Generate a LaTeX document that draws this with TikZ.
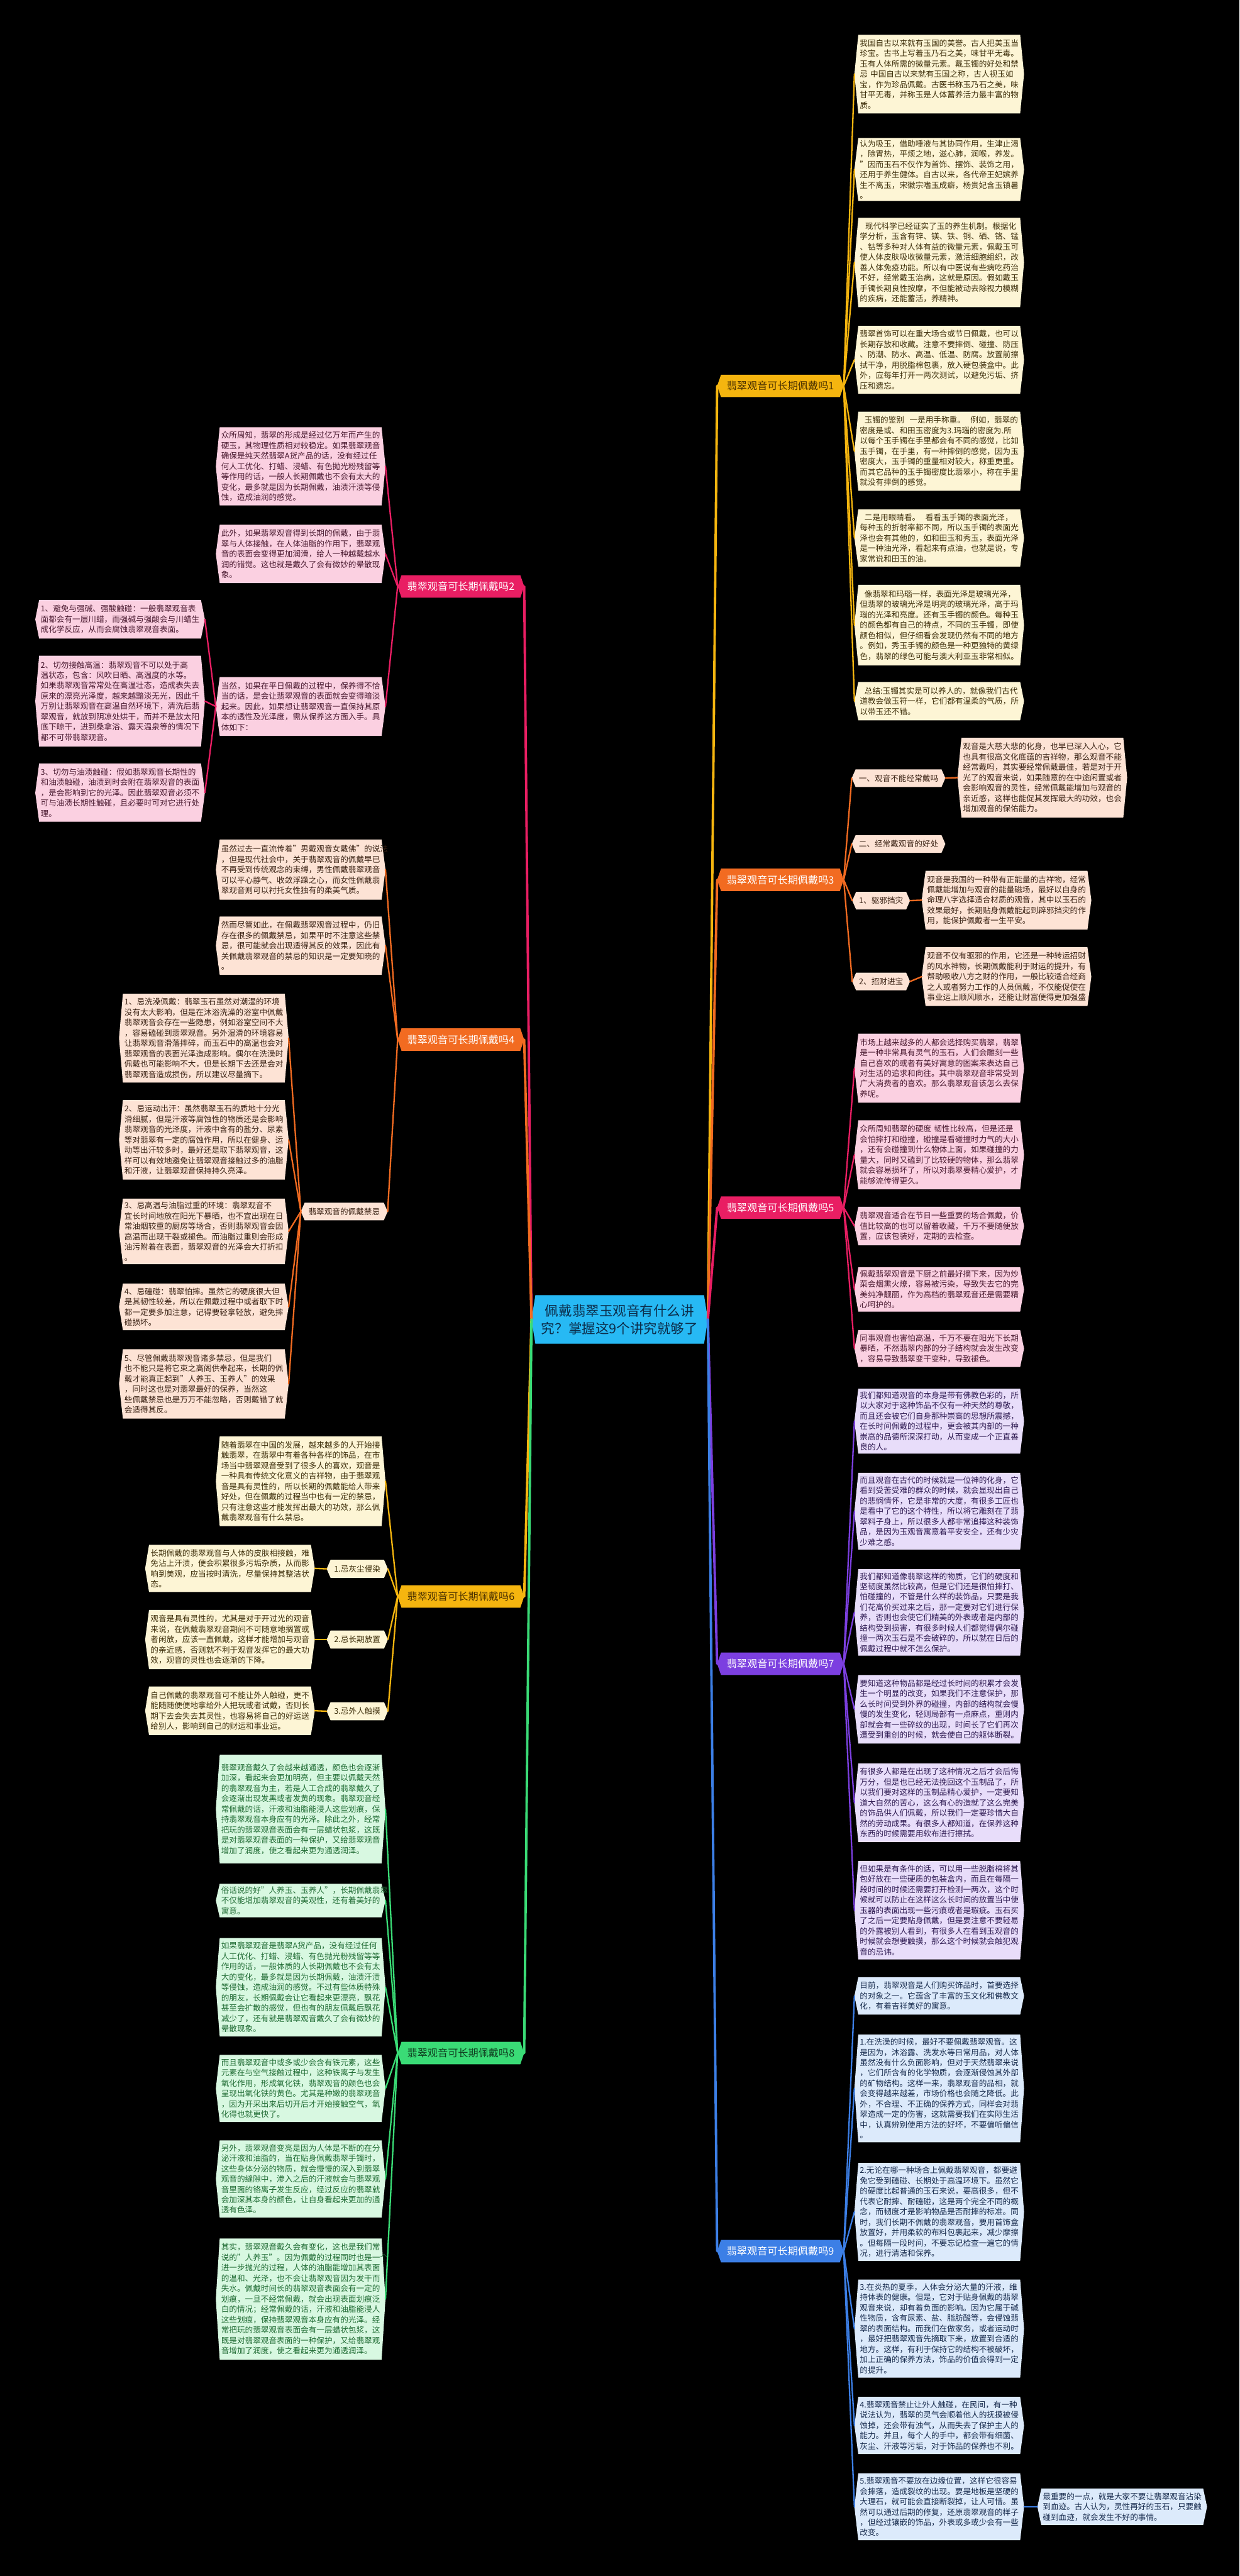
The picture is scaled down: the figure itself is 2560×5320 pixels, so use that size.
\documentclass[tikz,border=0pt]{standalone}
\usepackage{fontspec}
\setmainfont{Noto Sans CJK SC}
\usetikzlibrary{backgrounds}
\setlength{\parindent}{0pt}

\definecolor{cgold}{HTML}{F5B50F}
\definecolor{corange}{HTML}{F26B21}
\definecolor{cpink}{HTML}{E91E63}
\definecolor{cpurple}{HTML}{7C3FE0}
\definecolor{cblue}{HTML}{3C7FE6}
\definecolor{cgreen}{HTML}{3ADB76}
\definecolor{croot}{HTML}{27B9F4}
\definecolor{troot}{HTML}{0C2D4A}
\definecolor{fY}{HTML}{FDF5D5}\definecolor{tY}{HTML}{3D2E0A}
\definecolor{fO}{HTML}{FDE3D5}\definecolor{tO}{HTML}{3A2214}
\definecolor{fP}{HTML}{FBD0E1}\definecolor{tP}{HTML}{4A1A30}
\definecolor{fV}{HTML}{E8DDFA}\definecolor{tV}{HTML}{2E1A52}
\definecolor{fB}{HTML}{DCEAFB}\definecolor{tB}{HTML}{172B4D}
\definecolor{fG}{HTML}{D8F8E1}\definecolor{tG}{HTML}{1F6B33}
\definecolor{tGold}{HTML}{4A3000}
\definecolor{tGreenL}{HTML}{0F3D1F}

\tikzset{
  txt/.style={font=\fontsize{16.4pt}{21.4pt}\selectfont, align=left, text width=328pt, inner xsep=3pt, inner ysep=4pt},
  subl/.style={font=\fontsize{16.4pt}{20pt}\selectfont},
  mainl/.style={font=\fontsize{21pt}{24pt}\selectfont},
  rootsty/.style={font=\fontsize{28pt}{36pt}\selectfont, align=center, text=troot},
  conn/.style={line width=3pt, draw=#1, line cap=round},
  trunk/.style={line width=5pt, draw=#1, line cap=round},
}

\newcommand\myhex[2]{%
  \begin{pgfonlayer}{background}
    \fill[#2] (#1.north west) -- (#1.north east) -- ([xshift=8pt]#1.east) -- (#1.south east) -- (#1.south west) -- ([xshift=-8pt]#1.west) -- cycle;
  \end{pgfonlayer}
  \coordinate (#1-l) at ([xshift=-8pt]#1.west);
  \coordinate (#1-r) at ([xshift=8pt]#1.east);}

% name, x, y, height, fill, textcolor, text
\newcommand\myleaf[7]{%
  \node[txt, text=#6, minimum height=#4pt] (#1) at (#2,#3) {#7};
  \myhex{#1}{#5}}

% name, x, y, width, height, fill, style, text
\newcommand\mylab[8]{%
  \node[#7, minimum width=#4pt, minimum height=#5pt, inner sep=0pt] (#1) at (#2,#3) {#8};
  \myhex{#1}{#6}}

\begin{document}
\begin{tikzpicture}[x=1pt,y=-1pt]
\useasboundingbox (0,0) rectangle (2560,5320);
\begin{pgfonlayer}{background}
\fill[black] (0,0) rectangle (2560,5320);
\end{pgfonlayer}

% ---------- root ----------
\mylab{root}{1280}{2725}{348}{100}{croot}{rootsty}{佩戴翡翠玉观音有什么讲\\究？掌握这9个讲究就够了}

% ---------- main labels ----------
\mylab{lab1}{1612}{797}{245}{46}{cgold}{mainl,text=tGold}{翡翠观音可长期佩戴吗1}
\mylab{lab3}{1612}{1817}{245}{46}{corange}{mainl,text=white}{翡翠观音可长期佩戴吗3}
\mylab{lab5}{1612}{2494}{245}{46}{cpink}{mainl,text=white}{翡翠观音可长期佩戴吗5}
\mylab{lab7}{1612}{3436}{245}{46}{cpurple}{mainl,text=white}{翡翠观音可长期佩戴吗7}
\mylab{lab9}{1612}{4649}{245}{46}{cblue}{mainl,text=white}{翡翠观音可长期佩戴吗9}
\mylab{lab2}{952}{1211}{245}{46}{cpink}{mainl,text=white}{翡翠观音可长期佩戴吗2}
\mylab{lab4}{952}{2147}{245}{46}{corange}{mainl,text=white}{翡翠观音可长期佩戴吗4}
\mylab{lab6}{952}{3297}{245}{46}{cgold}{mainl,text=tGold}{翡翠观音可长期佩戴吗6}
\mylab{lab8}{952}{4240}{245}{46}{cgreen}{mainl,text=tGreenL}{翡翠观音可长期佩戴吗8}

\draw[trunk=cgold] (root-r) -- (lab1-l);
\draw[trunk=corange] (root-r) -- (lab3-l);
\draw[trunk=cpink] (root-r) -- (lab5-l);
\draw[trunk=cpurple] (root-r) -- (lab7-l);
\draw[trunk=cblue] (root-r) -- (lab9-l);
\draw[trunk=cpink] (root-l) -- (lab2-r);
\draw[trunk=corange] (root-l) -- (lab4-r);
\draw[trunk=cgold] (root-l) -- (lab6-r);
\draw[trunk=cgreen] (root-l) -- (lab8-r);

% ---------- branch 1 ----------
\myleaf{a1}{1940}{153}{162}{fY}{tY}{我国自古以来就有玉国的美誉。古人把美玉当\\珍宝。古书上写着玉乃石之美，味甘平无毒。\\玉有人体所需的微量元素。戴玉镯的好处和禁\\忌~中国自古以来就有玉国之称，古人视玉如\\宝，作为珍品佩戴。古医书称玉乃石之美，味\\甘平无毒，并称玉是人体蓄养活力最丰富的物\\质。}
\myleaf{a2}{1940}{350}{129}{fY}{tY}{认为吸玉，借助唾液与其协同作用，生津止渴\\，除胃热，平烦之地，滋心肺，润喉，养发。\\"因而玉石不仅作为首饰、摆饰、装饰之用，\\还用于养生健体。自古以来，各代帝王妃嫔养\\生不离玉，宋徽宗嗜玉成癖，杨贵妃含玉镇暑\\。}
\myleaf{a3}{1940}{542}{184}{fY}{tY}{\hspace*{0.7em}现代科学已经证实了玉的养生机制。根据化\\学分析，玉含有锌、镁、铁、铜、硒、铬、锰\\、钴等多种对人体有益的微量元素，佩戴玉可\\使人体皮肤吸收微量元素，激活细胞组织，改\\善人体免疫功能。所以有中医说有些病吃药治\\不好，经常戴玉治病，这就是原因。假如戴玉\\手镯长期良性按摩，不但能被动去除视力模糊\\的疾病，还能蓄活，养精神。}
\myleaf{a4}{1940}{743}{140}{fY}{tY}{翡翠首饰可以在重大场合或节日佩戴，也可以\\长期存放和收藏。注意不要摔倒、碰撞、防压\\、防潮、防水、高温、低温、防腐。放置前擦\\拭干净，用脱脂棉包裹，放入硬包装盒中。此\\外，应每年打开一两次测试，以避免污垢、挤\\压和遗忘。}
\myleaf{a5}{1940}{932}{163}{fY}{tY}{\hspace*{0.6em}玉镯的鉴别~~一是用手称重。~~例如，翡翠的\\密度是或、和田玉密度为3.玛瑙的密度为.所\\以每个玉手镯在手里都会有不同的感觉，比如\\玉手镯，在手里，有一种摔倒的感觉，因为玉\\密度大，玉手镯的重量相对较大，称重更重。\\而其它品种的玉手镯密度比翡翠小，称在手里\\就没有摔倒的感觉。}
\myleaf{a6}{1940}{1111}{118}{fY}{tY}{\hspace*{0.6em}二是用眼睛看。~~看看玉手镯的表面光泽，\\每种玉的折射率都不同，所以玉手镯的表面光\\泽也会有其他的，如和田玉和秀玉，表面光泽\\是一种油光泽，看起来有点油，也就是说，专\\家常说和田玉的油。}
\myleaf{a7}{1940}{1291}{166}{fY}{tY}{\hspace*{0.6em}像翡翠和玛瑙一样，表面光泽是玻璃光泽，\\但翡翠的玻璃光泽是明亮的玻璃光泽，高于玛\\瑙的光泽和亮度。还有玉手镯的颜色。每种玉\\的颜色都有自己的特点，不同的玉手镯，即使\\颜色相似，但仔细看会发现仍然有不同的地方\\。例如，秀玉手镯的颜色是一种更独特的黄绿\\色，翡翠的绿色可能与澳大利亚玉非常相似。}
\myleaf{a8}{1940}{1448}{79}{fY}{tY}{\hspace*{0.6em}总结:玉镯其实是可以养人的，就像我们古代\\道教会做玉符一样，它们都有温柔的气质，所\\以带玉还不错。}
\foreach \n in {a1,a2,a3,a4,a5,a6,a7,a8} \draw[conn=cgold] (lab1-r) -- (\n-l);

% ---------- branch 3 ----------
\mylab{s31}{1856}{1607}{177}{36}{fO}{subl,text=tO}{一、观音不能经常戴吗}
\mylab{s32}{1856}{1743}{177}{36}{fO}{subl,text=tO}{二、经常戴观音的好处}
\mylab{s33}{1820}{1860}{103}{36}{fO}{subl,text=tO}{1、驱邪挡灾}
\mylab{s34}{1820}{2027}{103}{36}{fO}{subl,text=tO}{2、招财进宝}
\foreach \n in {s31,s32,s33,s34} \draw[conn=corange] (lab3-r) -- (\n-l);
\myleaf{t31}{2153}{1606}{164}{fO}{tO}{观音是大慈大悲的化身，也早已深入人心，它\\也具有很高文化底蕴的吉祥物，那么观音不能\\经常戴吗，其实要经常佩戴最佳，若是对于开\\光了的观音来说，如果随意的在中途闲置或者\\会影响观音的灵性，经常佩戴能增加与观音的\\亲近感，这样也能促其发挥最大的功效，也会\\增加观音的保佑能力。}
\myleaf{t33}{2079}{1859}{121}{fO}{tO}{观音是我国的一种带有正能量的吉祥物，经常\\佩戴能增加与观音的能量磁场，最好以自身的\\命理八字选择适合材质的观音，其中以玉石的\\效果最好，长期贴身佩戴能起到辟邪挡灾的作\\用，能保护佩戴者一生平安。}
\myleaf{t34}{2079}{2017}{121}{fO}{tO}{观音不仅有驱邪的作用，它还是一种转运招财\\的风水神物，长期佩戴能利于财运的提升，有\\帮助吸收八方之财的作用，一般比较适合经商\\之人或者努力工作的人员佩戴，不仅能促使在\\事业运上顺风顺水，还能让财富便得更加强盛}
\draw[conn=corange] (s31-r) -- (t31-l);
\draw[conn=corange] (s33-r) -- (t33-l);
\draw[conn=corange] (s34-r) -- (t34-l);

% ---------- branch 5 ----------
\myleaf{p1}{1940}{2206}{142}{fP}{tP}{市场上越来越多的人都会选择购买翡翠，翡翠\\是一种非常具有灵气的玉石，人们会雕刻一些\\自己喜欢的或者有美好寓意的图案来表达自己\\对生活的追求和向往。其中翡翠观音非常受到\\广大消费者的喜欢。那么翡翠观音该怎么去保\\养呢。}
\myleaf{p2}{1940}{2385}{142}{fP}{tP}{众所周知翡翠的硬度~韧性比较高，但是还是\\会怕摔打和碰撞，碰撞是看碰撞时力气的大小\\，还有会碰撞到什么物体上面，如果碰撞的力\\量大，同时又磕到了比较硬的物体，那么翡翠\\就会容易损坏了，所以对翡翠要精心爱护，才\\能够流传得更久。}
\myleaf{p3}{1940}{2532}{79}{fP}{tP}{翡翠观音适合在节日一些重要的场合佩戴，价\\值比较高的也可以留着收藏，千万不要随便放\\置，应该包装好，定期的去检查。}
\myleaf{p4}{1940}{2663}{91}{fP}{tP}{佩戴翡翠观音是下厨之前最好摘下来，因为炒\\菜会烟熏火燎，容易被污染，导致失去它的完\\美纯净靓丽，作为高档的翡翠观音还是需要精\\心呵护的。}
\myleaf{p5}{1940}{2785}{76}{fP}{tP}{同事观音也害怕高温，千万不要在阳光下长期\\暴晒，不然翡翠内部的分子结构就会发生改变\\，容易导致翡翠变干变种，导致褪色。}
\foreach \n in {p1,p2,p3,p4,p5} \draw[conn=cpink] (lab5-r) -- (\n-l);

% ---------- branch 7 ----------
\myleaf{v1}{1940}{2935}{134}{fV}{tV}{我们都知道观音的本身是带有佛教色彩的，所\\以大家对于这种饰品不仅有一种天然的尊敬，\\而且还会被它们自身那种崇高的思想所震撼，\\在长时间佩戴的过程中，更会被其内部的一种\\崇高的品德所深深打动，从而变成一个正直善\\良的人。}
\myleaf{v2}{1940}{3121}{158}{fV}{tV}{而且观音在古代的时候就是一位神的化身，它\\看到受苦受难的群众的时候，就会显现出自己\\的悲悯情怀，它是非常的大度，有很多工匠也\\是看中了它的这个特性，所以将它雕刻在了翡\\翠料子身上，所以很多人都非常追捧这种装饰\\品，是因为玉观音寓意着平安安全，还有少灾\\少难之感。}
\myleaf{v3}{1940}{3330}{178}{fV}{tV}{我们都知道像翡翠这样的物质，它们的硬度和\\坚韧度虽然比较高，但是它们还是很怕摔打、\\怕碰撞的，不管是什么样的装饰品，只要是我\\们花高价买过来之后，那一定要对它们进行保\\养，否则也会使它们精美的外表或者是内部的\\结构受到损害，有很多时候人们都觉得偶尔碰\\撞一两次玉石是不会破碎的，所以就在日后的\\佩戴过程中就不怎么保护。}
\myleaf{v4}{1940}{3530}{141}{fV}{tV}{要知道这种物品都是经过长时间的积累才会发\\生一个明显的改变，如果我们不注意保护，那\\么长时间受到外界的碰撞，内部的结构就会慢\\慢的发生变化，轻则局部有一点麻点，重则内\\部就会有一些碎纹的出现，时间长了它们再次\\遭受到重创的时候，就会使自己的躯体断裂。}
\myleaf{v5}{1940}{3723}{162}{fV}{tV}{有很多人都是在出现了这种情况之后才会后悔\\万分，但是也已经无法挽回这个玉制品了，所\\以我们要对这样的玉制品精心爱护，一定要知\\道大自然的苦心，这么有心的造就了这么完美\\的饰品供人们佩戴，所以我们一定要珍惜大自\\然的劳动成果。有很多人都知道，在保养这种\\东西的时候需要用软布进行擦拭。}
\myleaf{v6}{1940}{3945}{203}{fV}{tV}{但如果是有条件的话，可以用一些脱脂棉将其\\包好放在一些硬质的包装盒内，而且在每隔一\\段时间的时候还需要打开检测一两次，这个时\\候就可以防止在这样这么长时间的放置当中使\\玉器的表面出现一些污痕或者是瑕疵。玉石买\\了之后一定要贴身佩戴，但是要注意不要轻易\\的外露被别人看到，有很多人在看到玉观音的\\时候就会想要触摸，那么这个时候就会触犯观\\音的忌讳。}
\foreach \n in {v1,v2,v3,v4,v5,v6} \draw[conn=cpurple] (lab7-r) -- (\n-l);

% ---------- branch 9 ----------
\myleaf{b1}{1940}{4122}{77}{fB}{tB}{目前，翡翠观音是人们购买饰品时，首要选择\\的对象之一。它蕴含了丰富的玉文化和佛教文\\化，有着吉祥美好的寓意。}
\myleaf{b2}{1940}{4313}{222}{fB}{tB}{1.在洗澡的时候，最好不要佩戴翡翠观音。这\\是因为，沐浴露、洗发水等日常用品，对人体\\虽然没有什么负面影响，但对于天然翡翠来说\\，它们所含有的化学物质，会逐渐侵蚀其外部\\的矿物结构。这样一来，翡翠观音的品相，就\\会变得越来越差，市场价格也会随之降低。此\\外，不合理、不正确的保养方式，同样会对翡\\翠造成一定的伤害，这就需要我们在实际生活\\中，认真辨别使用方法的好坏，不要偏听偏信\\。}
\myleaf{b3}{1940}{4568}{202}{fB}{tB}{2.无论在哪一种场合上佩戴翡翠观音，都要避\\免它受到磕碰、长期处于高温环境下。虽然它\\的硬度比起普通的玉石来说，要高很多，但不\\代表它耐摔、耐磕碰，这是两个完全不同的概\\念，而韧度才是影响物品是否耐摔的标准。同\\时，我们长期不佩戴的翡翠观音，要用首饰盒\\放置好，并用柔软的布料包裹起来，减少摩擦\\。但每隔一段时间，不要忘记检查一遍它的情\\况，进行清洁和保养。}
\myleaf{b4}{1940}{4809}{202}{fB}{tB}{3.在炎热的夏季，人体会分泌大量的汗液，维\\持体表的健康。但是，它对于贴身佩戴的翡翠\\观音来说，却有着负面的影响。因为它属于碱\\性物质，含有尿素、盐、脂肪酸等，会侵蚀翡\\翠的表面结构。而我们在做家务，或者运动时\\，最好把翡翠观音先摘取下来，放置到合适的\\地方。这样，有利于保持它的结构不被破坏，\\加上正确的保养方法，饰品的价值会得到一定\\的提升。}
\myleaf{b5}{1940}{5009}{118}{fB}{tB}{4.翡翠观音禁止让外人触碰，在民间，有一种\\说法认为，翡翠的灵气会顺着他人的抚摸被侵\\蚀掉，还会带有浊气，从而失去了保护主人的\\能力。并且，每个人的手中，都会带有细菌、\\灰尘、汗液等污垢，对于饰品的保养也不利。}
\myleaf{b6}{1940}{5177}{138}{fB}{tB}{5.翡翠观音不要放在边缘位置，这样它很容易\\会摔落，造成裂纹的出现。要是地板是坚硬的\\大理石，就可能会直接断裂掉，让人可惜。虽\\然可以通过后期的修复，还原翡翠观音的样子\\，但经过镶嵌的饰品，外表或多或少会有一些\\改变。}
\myleaf{b7}{2318}{5177}{75}{fB}{tB}{最重要的一点，就是大家不要让翡翠观音沾染\\到血迹。古人认为，灵性再好的玉石，只要触\\碰到血迹，就会发生不好的事情。}
\foreach \n in {b1,b2,b3,b4,b5,b6} \draw[conn=cblue] (lab9-r) -- (\n-l);
\draw[conn=cblue] (b6-r) -- (b7-l);

% ---------- branch 2 ----------
\myleaf{l21}{621}{963}{161}{fP}{tP}{众所周知，翡翠的形成是经过亿万年而产生的\\硬玉，其物理性质相对较稳定。如果翡翠观音\\确保是纯天然翡翠A货产品的话，没有经过任\\何人工优化、打蜡、浸蜡、有色抛光粉残留等\\等作用的话，一般人长期佩戴也不会有太大的\\变化，最多就是因为长期佩戴，油渍汗渍等侵\\蚀，造成油润的感觉。}
\myleaf{l22}{621}{1144}{120}{fP}{tP}{此外，如果翡翠观音得到长期的佩戴，由于翡\\翠与人体接触，在人体油脂的作用下，翡翠观\\音的表面会变得更加润滑，给人一种越戴越水\\润的错觉。这也就是戴久了会有微妙的晕散现\\象。}
\myleaf{l23}{621}{1459}{121}{fP}{tP}{当然，如果在平日佩戴的过程中，保养得不恰\\当的话，是会让翡翠观音的表面就会变得暗淡\\起来。因此，如果想让翡翠观音一直保持其原\\本的透性及光泽度，需从保养这方面入手。具\\体如下：}
\foreach \n in {l21,l22,l23} \draw[conn=cpink] (lab2-l) -- (\n-r);
\myleaf{ll1}{248}{1279}{79}{fP}{tP}{1、避免与强碱、强酸触碰：一般翡翠观音表\\面都会有一层川蜡，而强碱与强酸会与川蜡生\\成化学反应，从而会腐蚀翡翠观音表面。}
\myleaf{ll2}{248}{1448}{187}{fP}{tP}{2、切勿接触高温：翡翠观音不可以处于高\\温状态，包含：风吹日晒、高温度的水等。\\如果翡翠观音常常处在高温壮态，造成表失去\\原来的漂亮光泽度，越来越黯淡无光，因此千\\万别让翡翠观音在高温自然环境下，清洗后翡\\翠观音，就放到阴凉处烘干，而并不是放太阳\\底下晾干，进到桑拿浴、露天温泉等的情况下\\都不可带翡翠观音。}
\myleaf{ll3}{248}{1637}{120}{fP}{tP}{3、切勿与油渍触碰：假如翡翠观音长期性的\\和油渍触碰，油渍到时会附在翡翠观音的表面\\，是会影响到它的光泽。因此翡翠观音必须不\\可与油渍长期性触碰，且必要时可对它进行处\\理。}
\foreach \n in {ll1,ll2,ll3} \draw[conn=cpink] (l23-l) -- (\n-r);

% ---------- branch 4 ----------
\myleaf{l41}{621}{1796}{124}{fO}{tO}{虽然过去一直流传着"男戴观音女戴佛"的说法\\，但是现代社会中，关于翡翠观音的佩戴早已\\不再受到传统观念的束缚，男性佩戴翡翠观音\\可以平心静气、收敛浮躁之心，而女性佩戴翡\\翠观音则可以衬托女性独有的柔美气质。}
\myleaf{l42}{621}{1953}{120}{fO}{tO}{然而尽管如此，在佩戴翡翠观音过程中，仍旧\\存在很多的佩戴禁忌，如果平时不注意这些禁\\忌，很可能就会出现适得其反的效果，因此有\\关佩戴翡翠观音的禁忌的知识是一定要知晓的\\。}
\mylab{s41}{711}{2502}{163}{36}{fO}{subl,text=tO}{翡翠观音的佩戴禁忌}
\foreach \n in {l41,l42,s41} \draw[conn=corange] (lab4-l) -- (\n-r);
\myleaf{c1}{421}{2144}{183}{fO}{tO}{1、忌洗澡佩戴：翡翠玉石虽然对潮湿的环境\\没有太大影响，但是在沐浴洗澡的浴室中佩戴\\翡翠观音会存在一些隐患，例如浴室空间不大\\，容易磕碰到翡翠观音。另外湿滑的环境容易\\让翡翠观音滑落摔碎，而玉石中的高温也会对\\翡翠观音的表面光泽造成影响。偶尔在洗澡时\\佩戴也可能影响不大，但是长期下去还是会对\\翡翠观音造成损伤，所以建议尽量摘下。}
\myleaf{c2}{421}{2354}{164}{fO}{tO}{2、忌运动出汗：虽然翡翠玉石的质地十分光\\滑细腻，但是汗液等腐蚀性的物质还是会影响\\翡翠观音的光泽度，汗液中含有的盐分、尿素\\等对翡翠有一定的腐蚀作用，所以在健身、运\\动等出汗较多时，最好还是取下翡翠观音，这\\样可以有效地避免让翡翠观音接触过多的油脂\\和汗液，让翡翠观音保持持久亮泽。}
\myleaf{c3}{421}{2543}{135}{fO}{tO}{3、忌高温与油脂过重的环境：翡翠观音不\\宜长时间地放在阳光下暴晒，也不宜出现在日\\常油烟较重的厨房等场合，否则翡翠观音会因\\高温而出现干裂或褪色。而油脂过重则会形成\\油污附着在表面，翡翠观音的光泽会大打折扣\\。}
\myleaf{c4}{421}{2699}{96}{fO}{tO}{4、忌磕碰：翡翠怕摔。虽然它的硬度很大但\\是其韧性较差，所以在佩戴过程中或者取下时\\都一定要多加注意，记得要轻拿轻放，避免摔\\碰损坏。}
\myleaf{c5}{421}{2858}{143}{fO}{tO}{5、尽管佩戴翡翠观音诸多禁忌，但是我们\\也不能只是将它束之高阁供奉起来，长期的佩\\戴才能真正起到"人养玉、玉养人"的效果\\，同时这也是对翡翠最好的保养，当然这\\些佩戴禁忌也是万万不能忽略，否则戴错了就\\会适得其反。}
\foreach \n in {c1,c2,c3,c4,c5} \draw[conn=corange] (s41-l) -- (\n-r);

% ---------- branch 6 ----------
\myleaf{l61}{621}{3059}{185}{fY}{tY}{随着翡翠在中国的发展，越来越多的人开始接\\触翡翠，在翡翠中有着各种各样的饰品，在市\\场当中翡翠观音受到了很多人的喜欢，观音是\\一种具有传统文化意义的吉祥物，由于翡翠观\\音是具有灵性的，所以长期的佩戴能给人带来\\好处，但在佩戴的过程当中也有一定的禁忌，\\只有注意这些才能发挥出最大的功效，那么佩\\戴翡翠观音有什么禁忌。}
\mylab{s61}{738}{3240}{110}{37}{fY}{subl,text=tY}{1.忌灰尘侵染}
\mylab{s62}{738}{3386}{110}{37}{fY}{subl,text=tY}{2.忌长期放置}
\mylab{s63}{738}{3534}{110}{37}{fY}{subl,text=tY}{3.忌外人触摸}
\foreach \n in {l61,s61,s62,s63} \draw[conn=cgold] (lab6-l) -- (\n-r);
\myleaf{d1}{475}{3239}{97}{fY}{tY}{长期佩戴的翡翠观音与人体的皮肤相接触，难\\免沾上汗渍，便会积累很多污垢杂质，从而影\\响到美观，应当按时清洗，尽量保持其整洁状\\态。}
\myleaf{d2}{475}{3386}{122}{fY}{tY}{观音是具有灵性的，尤其是对于开过光的观音\\来说，在佩戴翡翠观音期间不可随意地搁置或\\者闲放，应该一直佩戴，这样才能增加与观音\\的亲近感，否则就不利于观音发挥它的最大功\\效，观音的灵性也会逐渐的下降。}
\myleaf{d3}{475}{3533}{100}{fY}{tY}{自己佩戴的翡翠观音可不能让外人触碰，更不\\能随随便便地拿给外人把玩或者试戴，否则长\\期下去会失去其灵性，也容易将自己的好运送\\给别人，影响到自己的财运和事业运。}
\draw[conn=cgold] (s61-l) -- (d1-r);
\draw[conn=cgold] (s62-l) -- (d2-r);
\draw[conn=cgold] (s63-l) -- (d3-r);

% ---------- branch 8 ----------
\myleaf{g1}{621}{3736}{224}{fG}{tG}{翡翠观音戴久了会越来越通透，颜色也会逐渐\\加深，看起来会更加明亮，但主要以佩戴天然\\的翡翠观音为主，若是人工合成的翡翠戴久了\\会逐渐出现发黑或者发黄的现象。翡翠观音经\\常佩戴的话，汗液和油脂能浸人这些划痕，保\\持翡翠观音本身应有的光泽。除此之外，经常\\把玩的翡翠观音表面会有一层蜡状包浆，这既\\是对翡翠观音表面的一种保护，又给翡翠观音\\增加了润度，使之看起来更为通透润泽。}
\myleaf{g2}{621}{3925}{69}{fG}{tG}{俗话说的好"人养玉、玉养人"，长期佩戴翡翠\\不仅能增加翡翠观音的美观性，还有着美好的\\寓意。}
\myleaf{g3}{621}{4104}{203}{fG}{tG}{如果翡翠观音是翡翠A货产品，没有经过任何\\人工优化、打蜡、浸蜡、有色抛光粉残留等等\\作用的话，一般体质的人长期佩戴也不会有太\\大的变化，最多就是因为长期佩戴，油渍汗渍\\等侵蚀，造成油润的感觉。不过有些体质特殊\\的朋友，长期佩戴会让它看起来更漂亮，飘花\\甚至会扩散的感觉，但也有的朋友佩戴后飘花\\减少了，还有就是翡翠观音戴久了会有微妙的\\晕散现象。}
\myleaf{g4}{621}{4313}{138}{fG}{tG}{而且翡翠观音中或多或少会含有铁元素，这些\\元素在与空气接触过程中，这种铁离子与发生\\氧化作用，形成氧化铁，翡翠观音的颜色也会\\呈现出氧化铁的黄色。尤其是种嫩的翡翠观音\\，因为开采出来后切开后才开始接触空气，氧\\化得也就更快了。}
\myleaf{g5}{621}{4500}{159}{fG}{tG}{另外，翡翠观音变亮是因为人体是不断的在分\\泌汗液和油脂的，当在贴身佩戴翡翠手镯时，\\这些身体分泌的物质，就会慢慢的深入到翡翠\\观音的缝隙中，渗入之后的汗液就会与翡翠观\\音里面的铬离子发生反应，经过反应的翡翠就\\会加深其本身的颜色，让自身看起来更加的通\\透有色泽。}
\myleaf{g6}{621}{4748}{250}{fG}{tG}{其实，翡翠观音戴久会有变化，这也是我们常\\说的"人养玉"。因为佩戴的过程同时也是一个\\进一步抛光的过程，人体的油脂能增加其表面\\的温和、光泽，也不会让翡翠观音因为发干而\\失水。佩戴时间长的翡翠观音表面会有一定的\\划痕，一旦不经常佩戴，就会出现表面划痕泛\\白的情况；经常佩戴的话，汗液和油脂能浸人\\这些划痕，保持翡翠观音本身应有的光泽。经\\常把玩的翡翠观音表面会有一层蜡状包浆，这\\既是对翡翠观音表面的一种保护，又给翡翠观\\音增加了润度，使之看起来更为通透润泽。}
\foreach \n in {g1,g2,g3,g4,g5,g6} \draw[conn=cgreen] (lab8-l) -- (\n-r);

\end{tikzpicture}
\end{document}
